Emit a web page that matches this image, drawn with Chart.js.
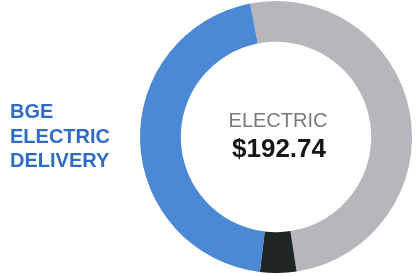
<!DOCTYPE html>
<html>
<head>
<meta charset="utf-8">
<script src="https://cdn.jsdelivr.net/npm/chart.js@4/dist/chart.umd.min.js"></script>
<style>
  html, body { margin: 0; padding: 0; background: #fff; }
  #wrap { width: 417px; height: 276px; position: relative; }
</style>
</head>
<body>
<div id="wrap"><canvas id="billChart"></canvas></div>
<script>
const categories = ['Supply', 'Taxes & Fees', 'BGE Electric Delivery'];
const amounts = [97.6, 8.3, 86.84];
const colors = ['#b9b5bd', '#1f2522', '#4b89d4'];

const centerTitle = 'ELECTRIC';
const centerValue = '$192.74';
const sideLabel = ['BGE', 'ELECTRIC', 'DELIVERY'];

const textPlugin = {
  id: 'billText',
  afterDraw(chart) {
    const ctx = chart.ctx;
    const arc = chart.getDatasetMeta(0).data[0];
    const cx = arc.x;
    ctx.save();
    ctx.textAlign = 'center';
    ctx.textBaseline = 'alphabetic';
    ctx.fillStyle = '#7a7a7a';
    ctx.font = '20px "Liberation Sans", Arial, sans-serif';
    ctx.fillText(centerTitle, cx + 2, 127);
    ctx.fillStyle = '#161616';
    ctx.font = 'bold 26px "Liberation Sans", Arial, sans-serif';
    ctx.fillText(centerValue, cx + 3, 157);

    // label on the left, same blue as the slice
    ctx.textAlign = 'left';
    ctx.fillStyle = '#2f6cc4';
    ctx.font = 'bold 20px "Liberation Sans", Arial, sans-serif';
    sideLabel.forEach((line, i) => {
      ctx.fillText(line, 10, 118 + i * 24.5);
    });
    ctx.restore();
  }
};

const ctx = document.getElementById('billChart').getContext('2d');
new Chart(ctx, {
  type: 'doughnut',
  data: {
    labels: categories,
    datasets: [
      {
        data: amounts,
        backgroundColor: colors,
        borderWidth: 0,
      },
    ],
  },
  options: {
    responsive: true,
    maintainAspectRatio: false,
    animation: false,
    rotation: -11,
    cutout: '70%',
    layout: {
      padding: { left: 140, right: 5, top: 1, bottom: 3 },
    },
    plugins: {
      legend: { display: false },
      tooltip: { enabled: false },
    },
  },
  plugins: [textPlugin],
});
</script>
</body>
</html>
